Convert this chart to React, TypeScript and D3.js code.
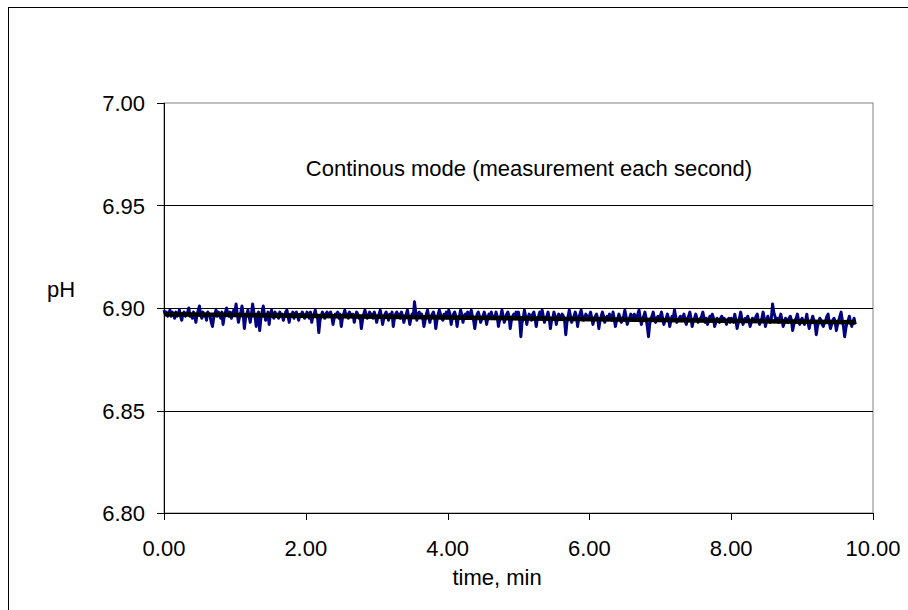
import React from "react";
import * as d3 from "d3";

// pH readings, one every second (t = i / 60 min)
const phValues: number[] = [
  6.899,6.897,6.898,6.896,6.897,6.899,6.896,6.898,6.897,6.895,6.898,6.896,6.897,6.899,6.896,6.894,6.897,6.898,6.896,6.897,
  6.898,6.900,6.896,6.897,6.895,6.898,6.896,6.893,6.897,6.899,6.901,6.897,6.895,6.898,6.896,6.897,6.894,6.898,6.897,6.896,
  6.893,6.891,6.895,6.897,6.899,6.896,6.898,6.897,6.895,6.898,6.892,6.896,6.898,6.900,6.897,6.896,6.898,6.895,6.897,6.899,
  6.898,6.902,6.897,6.893,6.896,6.898,6.901,6.897,6.890,6.895,6.897,6.899,6.896,6.893,6.897,6.902,6.898,6.896,6.891,6.897,
  6.898,6.889,6.895,6.898,6.901,6.897,6.894,6.896,6.898,6.892,6.897,6.899,6.896,6.895,6.898,6.896,6.897,6.895,6.898,6.896,
  6.897,6.894,6.896,6.898,6.899,6.896,6.893,6.897,6.896,6.898,6.895,6.897,6.898,6.896,6.894,6.897,6.896,6.898,6.897,6.895,
  6.896,6.898,6.897,6.895,6.898,6.893,6.896,6.897,6.899,6.896,6.895,6.888,6.894,6.896,6.898,6.897,6.895,6.897,6.898,6.896,
  6.897,6.898,6.896,6.892,6.895,6.897,6.896,6.898,6.895,6.897,6.891,6.895,6.897,6.899,6.896,6.897,6.895,6.898,6.896,6.897,
  6.897,6.893,6.896,6.898,6.897,6.895,6.896,6.890,6.894,6.897,6.899,6.897,6.895,6.896,6.898,6.896,6.897,6.895,6.898,6.896,
  6.893,6.896,6.897,6.899,6.896,6.892,6.895,6.897,6.898,6.896,6.894,6.897,6.896,6.898,6.891,6.895,6.897,6.898,6.896,6.897,
  6.895,6.898,6.896,6.893,6.896,6.897,6.899,6.896,6.892,6.895,6.897,6.896,6.903,6.898,6.894,6.897,6.898,6.896,6.897,6.895,
  6.891,6.894,6.897,6.899,6.896,6.893,6.896,6.897,6.898,6.896,6.890,6.894,6.897,6.899,6.897,6.895,6.894,6.897,6.896,6.898,
  6.896,6.899,6.897,6.892,6.895,6.897,6.898,6.896,6.891,6.895,6.896,6.899,6.897,6.893,6.896,6.897,6.895,6.898,6.896,6.897,
  6.899,6.896,6.894,6.890,6.894,6.897,6.898,6.896,6.893,6.895,6.896,6.898,6.896,6.892,6.895,6.897,6.896,6.898,6.895,6.896,
  6.895,6.898,6.896,6.891,6.894,6.896,6.899,6.896,6.893,6.895,6.897,6.898,6.896,6.890,6.894,6.896,6.897,6.895,6.898,6.896,
  6.898,6.894,6.886,6.893,6.895,6.899,6.896,6.892,6.895,6.897,6.896,6.894,6.897,6.898,6.895,6.891,6.895,6.896,6.898,6.895,
  6.899,6.896,6.893,6.895,6.896,6.898,6.895,6.890,6.894,6.895,6.898,6.896,6.892,6.895,6.897,6.896,6.895,6.897,6.896,6.894,
  6.887,6.893,6.896,6.899,6.896,6.893,6.895,6.896,6.898,6.896,6.891,6.895,6.897,6.899,6.896,6.894,6.895,6.897,6.896,6.895,
  6.896,6.898,6.895,6.892,6.895,6.896,6.897,6.895,6.890,6.894,6.896,6.898,6.896,6.893,6.895,6.896,6.895,6.897,6.896,6.894,
  6.898,6.895,6.891,6.894,6.895,6.897,6.895,6.893,6.895,6.896,6.899,6.896,6.892,6.894,6.895,6.897,6.896,6.894,6.897,6.895,
  6.894,6.897,6.899,6.895,6.892,6.895,6.896,6.898,6.895,6.891,6.886,6.892,6.895,6.896,6.898,6.895,6.893,6.895,6.896,6.894,
  6.896,6.898,6.895,6.892,6.894,6.895,6.897,6.895,6.891,6.894,6.896,6.895,6.899,6.896,6.893,6.894,6.895,6.896,6.894,6.895,
  6.897,6.894,6.892,6.895,6.896,6.898,6.895,6.891,6.894,6.895,6.897,6.895,6.893,6.894,6.895,6.896,6.898,6.895,6.893,6.895,
  6.892,6.894,6.896,6.894,6.897,6.895,6.891,6.893,6.895,6.894,6.893,6.895,6.896,6.894,6.895,6.894,6.892,6.894,6.895,6.893,
  6.895,6.894,6.893,6.897,6.894,6.890,6.893,6.895,6.898,6.895,6.892,6.894,6.895,6.894,6.896,6.894,6.891,6.893,6.895,6.894,
  6.894,6.896,6.897,6.894,6.892,6.894,6.895,6.898,6.895,6.891,6.894,6.896,6.894,6.893,6.895,6.902,6.898,6.896,6.894,6.895,
  6.893,6.895,6.897,6.894,6.891,6.893,6.895,6.894,6.893,6.895,6.896,6.894,6.889,6.892,6.894,6.895,6.897,6.894,6.892,6.894,
  6.895,6.893,6.892,6.894,6.897,6.893,6.890,6.893,6.894,6.896,6.894,6.892,6.887,6.891,6.893,6.895,6.894,6.892,6.891,6.893,
  6.894,6.896,6.897,6.893,6.890,6.892,6.894,6.895,6.893,6.889,6.892,6.894,6.896,6.898,6.894,6.891,6.886,6.890,6.893,6.894,
  6.896,6.893,6.891,6.893,6.895,6.892,
];
const sampleStepMin = 1 / 60;

// trend line (time, min / pH)
const trendTime: number[] = [0, 9.75];
const trendPh: number[] = [6.897, 6.893];

const xTicks: number[] = [0, 2, 4, 6, 8, 10];
const yTicks: number[] = [6.8, 6.85, 6.9, 6.95, 7.0];
const gridTicks: number[] = [6.85, 6.9, 6.95];

const titleText = "Continous mode (measurement each second)";
const xLabel = "time, min";
const yLabel = "pH";

export default function App() {
  const W = 908;
  const H = 610;
  const left = 164, right = 873, top = 103, bottom = 513;
  const x = d3.scaleLinear().domain([0, 10]).range([left, right]);
  const y = d3.scaleLinear().domain([6.8, 7.0]).range([bottom, top]);

  const pts: [number, number][] = phValues.map((v, i) => [i * sampleStepMin, v]);
  const line = d3
    .line<[number, number]>()
    .x((d) => x(d[0]))
    .y((d) => y(d[1]));
  const trendPts: [number, number][] = trendTime.map((t, i) => [t, trendPh[i]]);

  const font = "'Liberation Sans', Arial, sans-serif";
  const fs = 22;

  return (
    <svg
      width={W}
      height={H}
      style={{ position: "absolute", left: 0, top: 0, background: "#fff" }}
      fontFamily={font}
    >
      <rect x={0} y={0} width={W} height={H} fill="#fff" />
      {/* outer chart frame */}
      <rect x={8.5} y={7.5} width={1000} height={1000} fill="none" stroke="#000" strokeWidth={1} />
      {/* plot area border */}
      <rect x={left} y={top} width={right - left} height={bottom - top} fill="none" stroke="#808080" strokeWidth={1} />
      {/* gridlines */}
      {gridTicks.map((t) => (
        <line key={t} x1={left} x2={right} y1={Math.round(y(t)) + 0.5} y2={Math.round(y(t)) + 0.5} stroke="#000" strokeWidth={1} />
      ))}
      {/* axes */}
      <line x1={left + 0.5} x2={left + 0.5} y1={top} y2={bottom} stroke="#000" />
      <line x1={left} x2={right} y1={bottom + 0.5} y2={bottom + 0.5} stroke="#000" />
      {yTicks.map((t) => (
        <g key={t}>
          <line x1={left - 7} x2={left} y1={Math.round(y(t)) + 0.5} y2={Math.round(y(t)) + 0.5} stroke="#000" />
          <text x={145} y={y(t) + 8} textAnchor="end" fontSize={fs} fill="#000">
            {t.toFixed(2)}
          </text>
        </g>
      ))}
      {xTicks.map((t) => (
        <g key={t}>
          <line x1={Math.round(x(t)) + 0.5} x2={Math.round(x(t)) + 0.5} y1={bottom} y2={bottom + 7} stroke="#000" />
          <text x={x(t)} y={556} textAnchor="middle" fontSize={fs} fill="#000">
            {t.toFixed(2)}
          </text>
        </g>
      ))}
      {/* data */}
      <path d={line(pts) || ""} fill="none" stroke="#000080" strokeWidth={3} strokeLinejoin="round" />
      <path d={line(trendPts) || ""} fill="none" stroke="#000" strokeWidth={4.5} />
      {/* texts */}
      <text x={529} y={176} textAnchor="middle" fontSize={fs} fill="#000">{titleText}</text>
      <text x={497} y={585} textAnchor="middle" fontSize={fs} fill="#000">{xLabel}</text>
      <text x={61} y={297} textAnchor="middle" fontSize={fs} fill="#000">{yLabel}</text>
    </svg>
  );
}
